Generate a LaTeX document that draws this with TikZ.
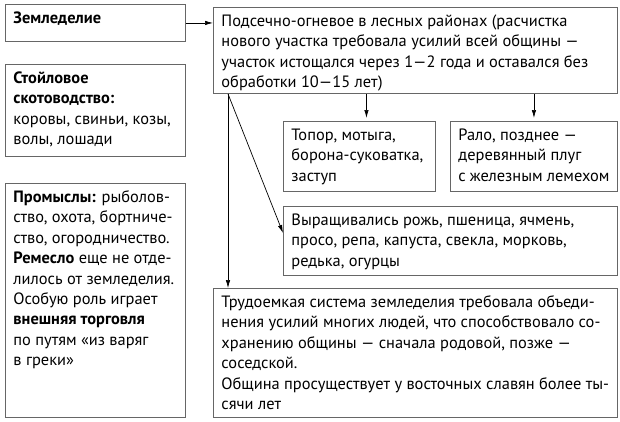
\documentclass[tikz,border=0pt]{standalone}
\usepackage{fontspec}
\setmainfont{PT Sans}
\usetikzlibrary{arrows.meta}

\newcommand{\boxtext}[3]{\parbox[c][#2][t]{#1}{\raggedright\rule{0pt}{19pt}#3}}

\begin{document}
\begin{tikzpicture}[x=1pt,y=-1pt,
  blok/.style={draw=black!60,line width=0.9pt,inner xsep=8pt,inner ysep=0pt,anchor=north west,
    font=\fontsize{16.4}{20.4}\selectfont},
  >={Latex[length=8pt,width=4.5pt]}]
\useasboundingbox (0,0) rectangle (620,421);

% Left column
\node[blok] (zem) at (5,4) {\boxtext{164pt}{37pt}{\textbf{Земледелие}}};
\node[blok] (stoi) at (5,64) {\boxtext{164pt}{92pt}{\textbf{Стойловое}\\ \textbf{скотоводство:}\\ коровы, свиньи, козы,\\ волы, лошади}};
\node[blok] (prom) at (5,183) {\boxtext{164pt}{234pt}{\textbf{Промыслы:} рыболов-\\ ство, охота, бортниче-\\ ство, огородничество.\\ \textbf{Ремесло} еще не отде-\\ лилось от земледелия.\\ Особую роль играет\\ \textbf{внешняя торговля}\\ по путям «из варяг\\ в греки»}};

% Farming
\node[blok] (podsek) at (213,7) {\boxtext{388pt}{86pt}{Подсечно-огневое в лесных районах (расчистка\\ нового участка требовала усилий всей общины —\\ участок истощался через 1—2 года и оставался без\\ обработки 10—15 лет)}};

% Tools
\node[blok] (tools) at (283,121) {\boxtext{136pt}{70pt}{Топор, мотыга,\\ борона-суковатка,\\ заступ}};
\node[blok] (ralo) at (450,121) {\boxtext{151pt}{70pt}{Рало, позднее —\\ деревянный плуг\\ с железным лемехом}};

% Crops
\node[blok] (crops) at (283,206) {\boxtext{318pt}{69pt}{Выращивались рожь, пшеница, ячмень,\\ просо, репа, капуста, свекла, морковь,\\ редька, огурцы}};

% Community
\node[blok] (trud) at (213,288) {\boxtext{388pt}{129pt}{Трудоемкая система земледелия требовала объеди-\\ нения усилий многих людей, что способствовало со-\\ хранению общины — сначала родовой, позже —\\ соседской.\\ Община просуществует у восточных славян более ты-\\ сячи лет}};

% Arrows
\draw[->,line width=0.7pt] (zem.east) -- (zem.east -| podsek.west);
\draw[->,line width=0.7pt] ([xshift=7pt]tools.north |- podsek.south) -- ([xshift=7pt,yshift=3pt]tools.north);
\draw[->,line width=0.7pt] (ralo.north |- podsek.south) -- ([yshift=3pt]ralo.north);
\draw[->,line width=0.7pt] ([xshift=15pt]podsek.south west) -- ([xshift=15pt]trud.north west);
\draw[->,line width=0.7pt] ([xshift=15pt]podsek.south west) -- ([yshift=8pt]crops.west);
\end{tikzpicture}
\end{document}
